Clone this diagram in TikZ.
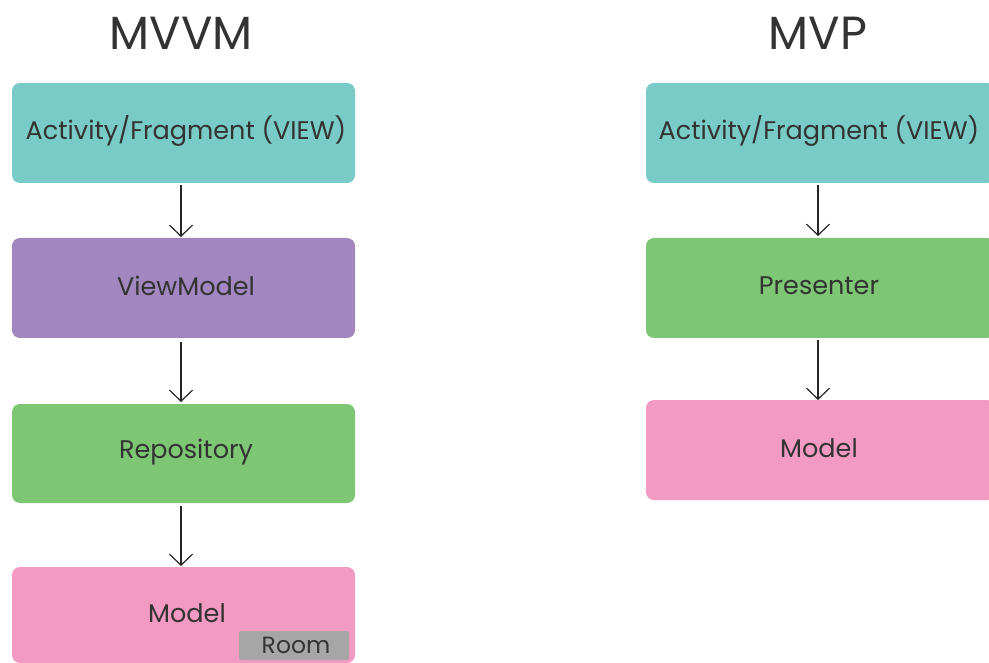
\documentclass[tikz,border=0pt]{standalone}
\usepackage{fontspec}
\setmainfont{Poppins}
\usetikzlibrary{arrows.meta}
\definecolor{teal}{HTML}{79CBC7}
\definecolor{purp}{HTML}{A286BF}
\definecolor{grn}{HTML}{7DC674}
\definecolor{pnk}{HTML}{F29AC2}
\definecolor{gry}{HTML}{A6A6A6}
\definecolor{txt}{HTML}{333333}
\begin{document}
\begin{tikzpicture}[x=1pt,y=-1pt,
  box/.style={draw=none,text=txt,font=\fontsize{25.5}{28}\selectfont},
  ttl/.style={text=txt,font=\fontsize{46.5}{50}\selectfont},
  arr/.style={draw=black!85,line width=1.2pt,-{Straight Barb[length=11pt,width=23pt,line width=1.2pt]}}]
\useasboundingbox (0,0) rectangle (989,663);
\fill[white] (0,0) rectangle (989,663);
% MVVM
\node[ttl] (t1) at (181,33) {MVVM};
\fill[teal,rounded corners=8pt] (12,83) rectangle (355,183);
\node[box] (a1) at (186,131) {Activity/Fragment (VIEW)};
\coordinate (a1b) at (181,185);
\fill[purp,rounded corners=8pt] (12,238) rectangle (355,338);
\node[box] (a2) at (186,286) {ViewModel};
\coordinate (a2t) at (181,237);
\coordinate (a2b) at (181,342);
\fill[grn,rounded corners=8pt] (12,404) rectangle (355,503);
\node[box] (a3) at (186,452) {Repository};
\coordinate (a3t) at (181,402);
\coordinate (a3b) at (181,506);
\fill[pnk,rounded corners=8pt] (12,567) rectangle (355,663);
\node[box] (a4) at (187,613) {Model};
\coordinate (a4t) at (181,566);
\fill[gry,rounded corners=2pt] (239,631) rectangle (349,660);
\node[text=txt,font=\fontsize{23.5}{26}\selectfont] (room) at (296,645) {Room};
\draw[arr] (a1b) -- (a2t);
\draw[arr] (a2b) -- (a3t);
\draw[arr] (a3b) -- (a4t);
% MVP
\node[ttl] (t2) at (818,33) {MVP};
\fill[teal,rounded corners=8pt] (646,83) rectangle (995,183);
\node[box] (b1) at (819,131) {Activity/Fragment (VIEW)};
\coordinate (b1b) at (818,185);
\fill[grn,rounded corners=8pt] (646,238) rectangle (995,338);
\node[box] (b2) at (819,286) {Presenter};
\coordinate (b2t) at (818,236);
\coordinate (b2b) at (818,340);
\fill[pnk,rounded corners=8pt] (646,400) rectangle (995,500);
\node[box] (b3) at (819,448) {Model};
\coordinate (b3t) at (818,400);
\draw[arr] (b1b) -- (b2t);
\draw[arr] (b2b) -- (b3t);
\end{tikzpicture}
\end{document}
